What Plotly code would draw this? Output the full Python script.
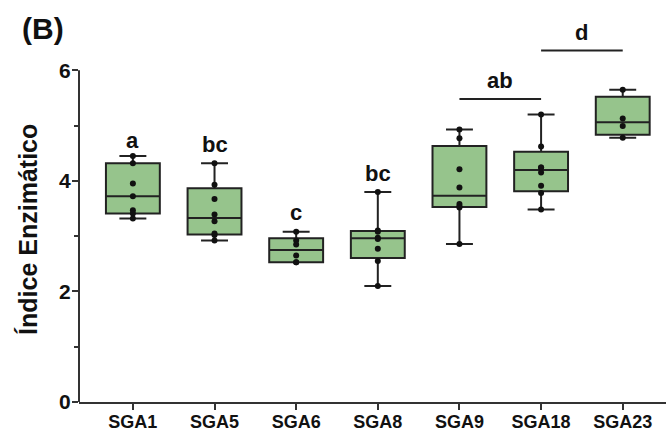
import numpy as np
import plotly.graph_objects as go

categories = ["SGA1", "SGA5", "SGA6", "SGA8", "SGA9", "SGA18", "SGA23"]

sga1 = [4.45, 4.32, 3.95, 3.72, 3.47, 3.41, 3.32]
sga5 = [4.32, 3.93, 3.67, 3.39, 3.27, 3.05, 3.02, 2.92]
sga6 = [3.08, 2.92, 2.85, 2.65, 2.53, 2.53]
sga8 = [3.80, 3.10, 3.08, 2.97, 2.95, 2.77, 2.55, 2.10]
sga9 = [4.93, 4.77, 4.21, 3.88, 3.58, 3.54, 3.52, 2.86]
sga18 = [5.20, 4.62, 4.24, 4.24, 4.15, 3.91, 3.78, 3.48]
sga23 = [5.65, 5.13, 4.99, 4.78]
groups = [sga1, sga5, sga6, sga8, sga9, sga18, sga23]

letters = ["a", "bc", "c", "bc"]
letter_y = [4.73, 4.65, 3.42, 4.14]

brackets = [("SGA9", "SGA18", 5.48, "ab", 5.82), ("SGA18", "SGA23", 6.36, "d", 6.69)]

y_ticks = [0, 2, 4, 6]
y_top = 7.0

# Box statistics (Prism-style quartiles: (n+1)p)
q1 = [float(np.percentile(g, 25, method="weibull")) for g in groups]
med = [float(np.median(g)) for g in groups]
q3 = [float(np.percentile(g, 75, method="weibull")) for g in groups]
lo = [min(g) for g in groups]
hi = [max(g) for g in groups]

fill = "rgb(150,196,140)"
dark = "#222222"
axis_col = "#333333"
font_fam = "Liberation Sans, Arial, sans-serif"

fig = go.Figure()
fig.add_trace(go.Box(
    x=categories, q1=q1, median=med, q3=q3, lowerfence=lo, upperfence=hi,
    fillcolor=fill, line=dict(color=dark, width=2), whiskerwidth=0.5,
    width=0.66, boxpoints=False, showlegend=False, hoverinfo="skip",
))

px_x, px_y = [], []
for c, g in zip(categories, groups):
    px_x += [c] * len(g)
    px_y += g
fig.add_trace(go.Scatter(
    x=px_x, y=px_y, mode="markers",
    marker=dict(color="#111111", size=6), showlegend=False, hoverinfo="skip",
))

annotations = []
for c, t, yv in zip(categories, letters, letter_y):
    annotations.append(dict(x=c, y=yv, xref="x", yref="y", text=t, showarrow=False,
                            font=dict(family=font_fam, size=22, color="#111", weight="bold"),
                            yanchor="middle"))
shapes = []
for a, b, yl, t, yt in brackets:
    shapes.append(dict(type="line", xref="x", yref="y", x0=a, x1=b, y0=yl, y1=yl,
                       line=dict(color=dark, width=2)))
    ia, ib = categories.index(a), categories.index(b)
    annotations.append(dict(x=(ia + ib) / 2, y=yt, xref="x", yref="y", text=t, showarrow=False,
                            font=dict(family=font_fam, size=22, color="#111", weight="bold"),
                            yanchor="middle"))

# y axis line only up to the top tick
shapes.append(dict(type="line", xref="paper", yref="paper", x0=0, x1=0, y0=0,
                   y1=max(y_ticks) / y_top, line=dict(color=axis_col, width=2)))

annotations.append(dict(x=-0.087, y=3.13, xref="paper", yref="y", text="Índice Enzimático",
                        textangle=-90, showarrow=False, xanchor="center", yanchor="middle",
                        font=dict(family=font_fam, size=25, color="#111", weight="bold")))
annotations.append(dict(x=-0.1005, y=6.76, xref="paper", yref="y", text="(B)",
                        showarrow=False, xanchor="left", yanchor="middle",
                        font=dict(family=font_fam, size=30, color="#111", weight="bold")))

fig.update_layout(
    width=668, height=432,
    margin=dict(l=79, r=2, t=15, b=30, autoexpand=False),
    paper_bgcolor="white", plot_bgcolor="white",
    shapes=shapes, annotations=annotations,
    xaxis=dict(type="category", range=[-0.66, 6.53], showline=True, linecolor=axis_col,
               linewidth=2, ticks="outside", ticklen=6, tickwidth=2, tickcolor=axis_col,
               showgrid=False, zeroline=False, automargin=False, ticklabelstandoff=-4,
               tickfont=dict(family=font_fam, size=18, color="#111", weight="bold")),
    yaxis=dict(range=[0, y_top], showline=False, tickvals=y_ticks, ticks="outside",
               ticklen=6, tickwidth=2, tickcolor=axis_col, showgrid=False, zeroline=False,
               automargin=False, ticklabelstandoff=-3,
               tickfont=dict(family=font_fam, size=21, color="#111", weight="bold"),
               minor=dict(tickvals=[1, 3, 5], ticks="outside", ticklen=4, tickwidth=2,
                          tickcolor=axis_col, showgrid=False)),
)

fig.write_html("out.html", config={"displayModeBar": False},
               post_script="document.body.style.margin='0';document.body.style.overflow='hidden';")
